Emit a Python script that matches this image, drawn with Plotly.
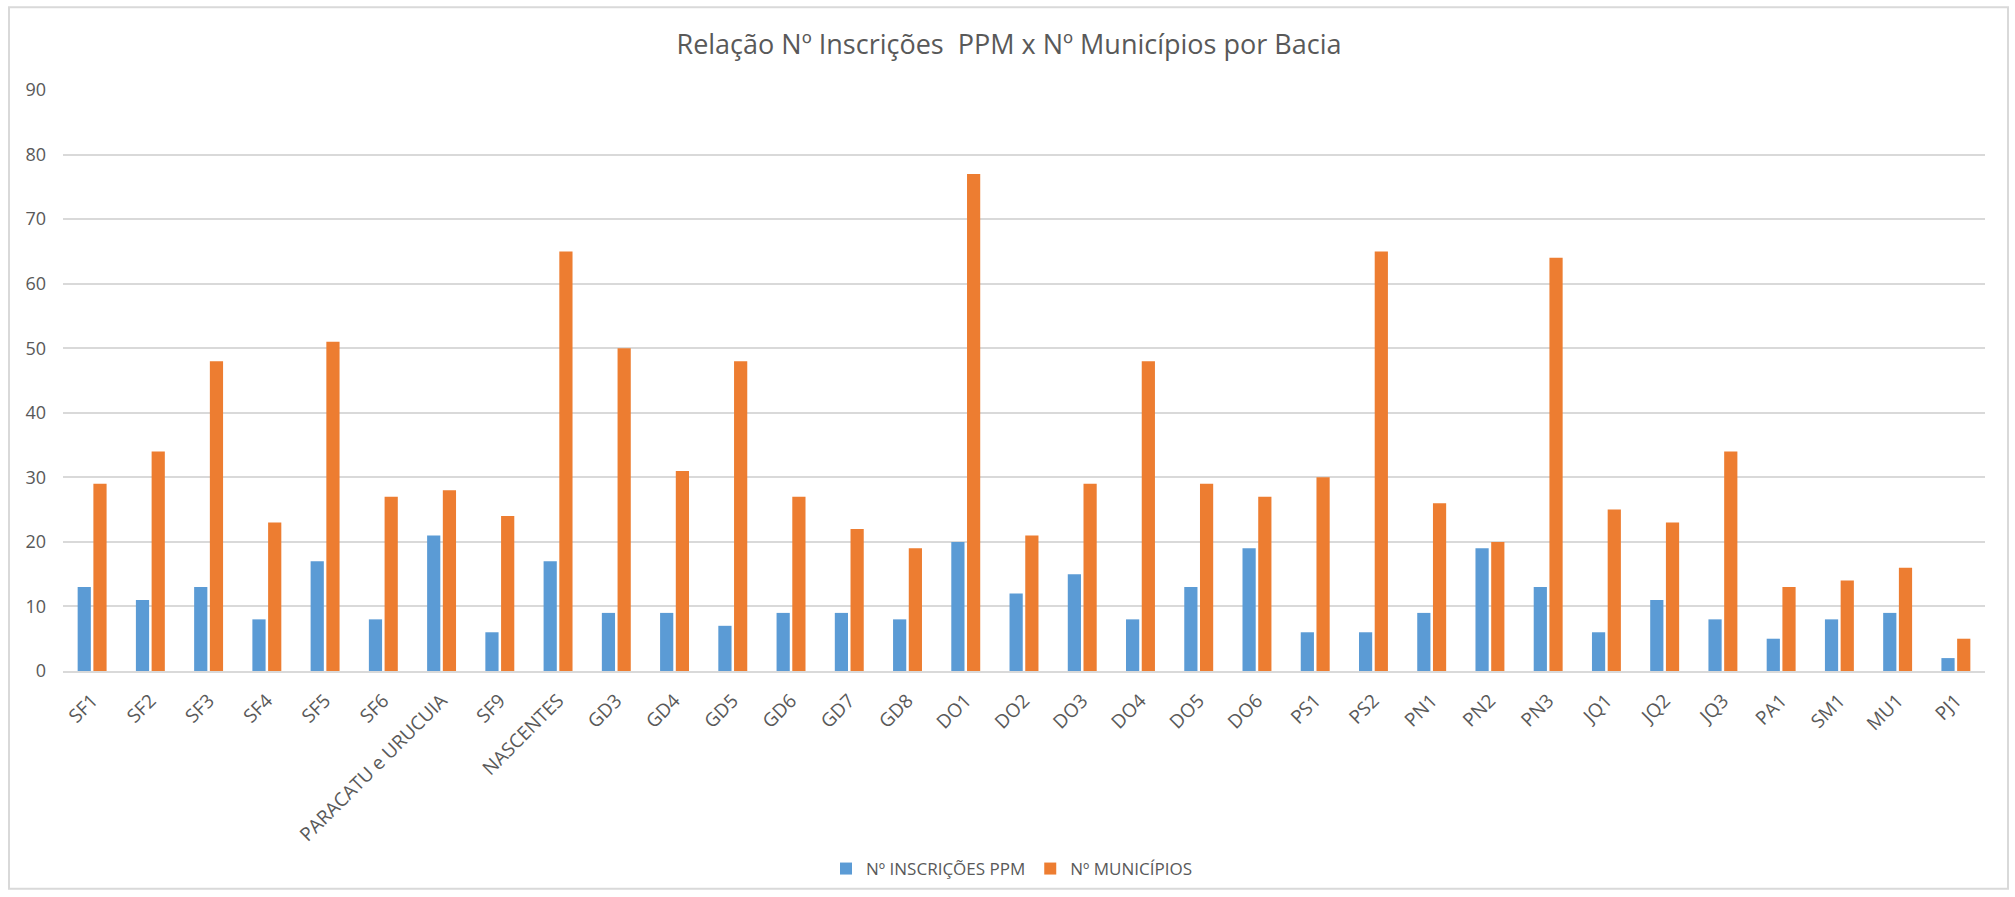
import plotly.graph_objects as go

categories = ["SF1", "SF2", "SF3", "SF4", "SF5", "SF6", "PARACATU e URUCUIA", "SF9", "NASCENTES",
              "GD3", "GD4", "GD5", "GD6", "GD7", "GD8", "DO1", "DO2", "DO3", "DO4", "DO5", "DO6",
              "PS1", "PS2", "PN1", "PN2", "PN3", "JQ1", "JQ2", "JQ3", "PA1", "SM1", "MU1", "PJ1"]
inscricoes_ppm = [13, 11, 13, 8, 17, 8, 21, 6, 17, 9, 9, 7, 9, 9, 8, 20, 12, 15, 8, 13, 19,
                  6, 6, 9, 19, 13, 6, 11, 8, 5, 8, 9, 2]
municipios = [29, 34, 48, 23, 51, 27, 28, 24, 65, 50, 31, 48, 27, 22, 19, 77, 21, 29, 48, 29, 27,
              30, 65, 26, 20, 64, 25, 23, 34, 13, 14, 16, 5]
y_ticks = [0, 10, 20, 30, 40, 50, 60, 70, 80, 90]

FONT = "Open Sans"
GREY = "#595959"

fig = go.Figure()
fig.add_trace(go.Bar(x=categories, y=inscricoes_ppm, name="Nº INSCRIÇÕES PPM",
                     marker=dict(color="#5B9BD5", line=dict(width=0))))
fig.add_trace(go.Bar(x=categories, y=municipios, name="Nº MUNICÍPIOS",
                     marker=dict(color="#ED7D31", line=dict(width=0))))

W, H = 2015, 897
ml, mr, mt, mb = 63, 30, 90, 225
pw, ph = W - ml - mr, H - mt - mb

def px(x):
    return (x - ml) / pw

def py(y):
    return (H - mb - y) / ph

fig.update_layout(
    width=W, height=H,
    margin=dict(l=ml, r=mr, t=mt, b=mb),
    paper_bgcolor="white", plot_bgcolor="white",
    barmode="group", bargap=0.46, bargroupgap=0.16,
    title=dict(text="Relação Nº Inscrições  PPM x Nº Municípios por Bacia",
               x=1009 / W, xref="container", xanchor="center",
               y=1 - 45 / H, yref="container", yanchor="middle",
               font=dict(family=FONT, size=27, color=GREY)),
    font=dict(family=FONT, color=GREY),
    legend=dict(orientation="h", x=px(1012), xanchor="center", y=py(869), yanchor="middle",
                font=dict(family=FONT, size=17, color=GREY),
                itemwidth=30, tracegroupgap=0),
    xaxis=dict(type="category", tickangle=-45, automargin=False, showgrid=False,
               showline=True, linecolor="#d9d9d9", linewidth=2,
               ticklabelstandoff=9,
               tickfont=dict(family=FONT, size=19, color=GREY), ticks=""),
    yaxis=dict(range=[0, 90], tickvals=y_ticks, automargin=False,
               showgrid=True, gridcolor="#d9d9d9", gridwidth=1.5,
               zeroline=False, showline=False, ticks="", ticklabelstandoff=16,
               tickfont=dict(family=FONT, size=18, color=GREY)),
    shapes=[dict(type="rect", xref="paper", yref="paper",
                 x0=px(9), x1=px(2008), y0=py(890), y1=py(7),
                 line=dict(color="#d9d9d9", width=2), fillcolor="rgba(0,0,0,0)", layer="below")],
)

fig.write_html("out.html", config={"displayModeBar": False},
               post_script="document.body.style.margin='0';document.body.style.overflow='hidden';")
